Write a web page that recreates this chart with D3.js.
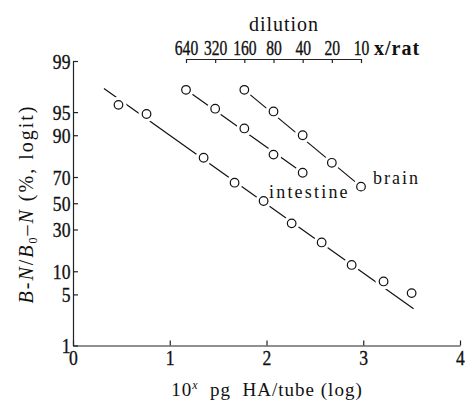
<!DOCTYPE html>
<html>
<head>
<meta charset="utf-8">
<script src="https://cdn.jsdelivr.net/npm/d3@7"></script>
<style>
  body { margin: 0; background: #fff; }
  text { font-family: "Liberation Serif", "DejaVu Serif", serif; fill: #111; }
</style>
</head>
<body>
<script>
var width = 465
var height = 404

// standard curve (unlabelled lower line): 10^x pg HA/tube vs % bound
var stdX = [0.47, 0.76, 1.35, 1.67, 1.97, 2.26, 2.57, 2.88, 3.21, 3.50]
var stdPct = [96.0, 94.7, 81.3, 66.0, 51.8, 34.3, 22.0, 12.0, 7.4, 5.2]
// fitted line drawn through the standard points
var stdFitX = [0.32, 3.52]
var stdFitPct = [97.6, 3.2]

// tissue extracts, plotted on the dilution scale
var intestineDil = [640, 320, 160, 80, 40]
var intestinePct = [97.5, 95.5, 91.8, 82.8, 72.8]
var brainDil = [160, 80, 40, 20, 10]
var brainPct = [97.5, 95.1, 90.0, 78.7, 63.1]

var yTicks = [1, 5, 10, 30, 50, 70, 90, 95, 99]
var xTicks = [0, 1, 2, 3, 4]
var dilTicks = [640, 320, 160, 80, 40, 20, 10]

function logit(p) { return Math.log(p / (100 - p)) }

var svg = d3.select('body')
			.append('svg')
			.attr('width', width)
			.attr('height', height)

var x = d3.scaleLinear().domain([0, 4]).range([73, 460])
var y = d3.scaleLinear().domain([logit(1), logit(99)]).range([345.5, 61])
var xDil = d3.scaleLog().domain([640, 10]).range([186, 361])

// left axis (logit)
var yAxis = svg.append('g')
			.attr('transform', 'translate(73,0)')
			.call(d3.axisLeft(y)
				.tickValues(yTicks.map(logit))
				.tickFormat(function(d, i){ return yTicks[i] })
				.tickSizeInner(-5)
				.tickSizeOuter(0)
				.tickPadding(3))

// bottom axis
var xAxis = svg.append('g')
			.attr('transform', 'translate(0,345.5)')
			.call(d3.axisBottom(x)
				.tickValues(xTicks)
				.tickFormat(d3.format('d'))
				.tickSizeInner(-5)
				.tickSizeOuter(0)
				.tickPadding(5))

// top dilution axis
var tAxis = svg.append('g')
			.attr('transform', 'translate(0,59)')
			.call(d3.axisTop(xDil)
				.tickValues(dilTicks)
				.tickFormat(d3.format('d'))
				.tickSizeInner(-4)
				.tickSizeOuter(0)
				.tickPadding(4))

svg.selectAll('.domain, .tick line')
	.attr('stroke', '#222')
	.attr('stroke-width', 1.2)

svg.selectAll('.tick text')
	.attr('stroke', '#111')
	.attr('stroke-width', 0.35)
yAxis.selectAll('text').attr('font-size', 21).attr('transform', 'scale(0.84,1)').attr('dy', '0.34em')
xAxis.selectAll('text').attr('font-size', 21).attr('transform', 'scale(0.84,1)')
tAxis.selectAll('text').attr('font-size', 20).attr('transform', 'scale(0.78,1)')

// fit lines
var lines = [
	stdFitX.map(function(d, i){ return [x(d), y(logit(stdFitPct[i]))] }),
	[intestineDil[0], intestineDil[4]].map(function(d, i){ return [xDil(d), y(logit(intestinePct[i * 4]))] }),
	[brainDil[0], brainDil[4]].map(function(d, i){ return [xDil(d), y(logit(brainPct[i * 4]))] })
]

svg.selectAll('path.fit')
	.data(lines)
	.enter()
	.append('path')
	.attr('class', 'fit')
	.attr('d', d3.line())
	.attr('fill', 'none')
	.attr('stroke', '#111')
	.attr('stroke-width', 1.2)

var pts = []
stdX.forEach(function(d, i){ pts.push([x(d), y(logit(stdPct[i]))]) })
intestineDil.forEach(function(d, i){ pts.push([xDil(d), y(logit(intestinePct[i]))]) })
brainDil.forEach(function(d, i){ pts.push([xDil(d), y(logit(brainPct[i]))]) })

// white gap around each circle
svg.selectAll('circle.gap')
	.data(pts)
	.enter()
	.append('circle')
	.attr('class', 'gap')
	.attr('cx', function(d){ return d[0] })
	.attr('cy', function(d){ return d[1] })
	.attr('r', 8)
	.attr('fill', '#fff')

svg.selectAll('circle.pt')
	.data(pts)
	.enter()
	.append('circle')
	.attr('class', 'pt')
	.attr('cx', function(d){ return d[0] })
	.attr('cy', function(d){ return d[1] })
	.attr('r', 4.3)
	.attr('fill', '#fff')
	.attr('stroke', '#111')
	.attr('stroke-width', 1.2)

// labels
svg.append('text')
	.attr('x', 284).attr('y', 31)
	.attr('text-anchor', 'middle')
	.attr('font-size', 20)
	.attr('letter-spacing', 1)
	.text('dilution')

svg.append('text')
	.attr('x', 374).attr('y', 55)
	.attr('font-size', 20)
	.attr('font-weight', 'bold')
	.attr('letter-spacing', 1)
	.text('x/rat')

svg.append('text')
	.attr('x', 269).attr('y', 198)
	.attr('font-size', 18)
	.attr('letter-spacing', 2.2)
	.text('intestine')

svg.append('text')
	.attr('x', 373).attr('y', 184)
	.attr('font-size', 18)
	.attr('letter-spacing', 2)
	.text('brain')

var xt = svg.append('text')
	.attr('x', 267).attr('y', 396)
	.attr('text-anchor', 'middle')
	.attr('font-size', 19)
	.attr('letter-spacing', 1)
xt.append('tspan').text('10')
xt.append('tspan').attr('font-style', 'italic').attr('font-size', 12).attr('dy', -7).text('x')
xt.append('tspan').attr('dy', 7).text('\u00a0 pg\u00a0 HA/tube (log)')

var yt = svg.append('text')
	.attr('transform', 'translate(33,204) rotate(-90)')
	.attr('text-anchor', 'middle')
	.attr('font-size', 20)
	.attr('letter-spacing', 2)
yt.append('tspan').attr('font-style', 'italic').text('B')
yt.append('tspan').text('-')
yt.append('tspan').attr('font-style', 'italic').text('N')
yt.append('tspan').text('/')
yt.append('tspan').attr('font-style', 'italic').text('B')
yt.append('tspan').attr('font-size', 12).attr('dy', 4).text('0')
yt.append('tspan').attr('dy', -4).text('\u2013')
yt.append('tspan').attr('font-style', 'italic').text('N')
yt.append('tspan').text(' (%, logit)')
</script>
</body>
</html>
